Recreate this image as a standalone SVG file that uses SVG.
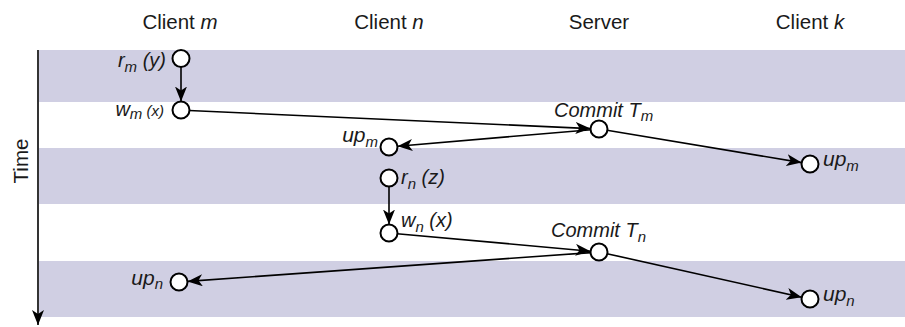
<svg xmlns="http://www.w3.org/2000/svg" width="905" height="327" viewBox="0 0 905 327">
  <style>
    .band { fill: #d0cfe3; }
    .head { font-family: "Liberation Sans", Arial, sans-serif; font-size: 20.5px; fill: #1a1a1a; text-anchor: middle; }
    .lbl { font-family: "Liberation Sans", Arial, sans-serif; font-size: 20px; font-style: italic; fill: #1a1a1a; }
    .up { font-size: 21px; }
    .sub { font-size: 15px; }
    .node { fill: #ffffff; stroke: #000000; stroke-width: 2; }
    .edge { fill: none; stroke: #000000; stroke-width: 1.6; marker-end: url(#arrow); }
  </style>
  <defs>
    <marker id="arrow" markerUnits="userSpaceOnUse" markerWidth="16" markerHeight="12" refX="15" refY="6" orient="auto">
      <path d="M0,0 L15,6 L0,12 L4,6 Z" fill="#000000"/>
    </marker>
  </defs>

  <rect width="905" height="327" fill="#ffffff"/>

  <!-- time bands -->
  <rect class="band" x="39" y="50" width="866" height="52"/>
  <rect class="band" x="39" y="148" width="866" height="56"/>
  <rect class="band" x="39" y="261" width="866" height="56"/>

  <!-- time axis -->
  <g id="time-axis">
    <line x1="38" y1="50" x2="38" y2="325" stroke="#000" stroke-width="1.6" marker-end="url(#arrow)"/>
    <text class="head" transform="translate(28,161) rotate(-90)">Time</text>
  </g>

  <!-- column headings -->
  <g id="headers">
    <text class="head" x="180" y="29">Client <tspan font-style="italic">m</tspan></text>
    <text class="head" x="389" y="29">Client <tspan font-style="italic">n</tspan></text>
    <text class="head" x="599" y="29">Server</text>
    <text class="head" x="810" y="29">Client <tspan font-style="italic">k</tspan></text>
  </g>

  <!-- connectors -->
  <g id="connectors">
    <line class="edge" x1="181" y1="67" x2="181" y2="101.5"/>
    <line class="edge" x1="189" y1="110.5" x2="590.5" y2="128.6"/>
    <line class="edge" x1="591" y1="129.7" x2="397.5" y2="146.3"/>
    <line class="edge" x1="607" y1="130.3" x2="801.6" y2="162.6"/>
    <line class="edge" x1="389" y1="187" x2="389" y2="224.5"/>
    <line class="edge" x1="397" y1="233.7" x2="590.5" y2="251.2"/>
    <line class="edge" x1="591" y1="252.6" x2="187.5" y2="281.4"/>
    <line class="edge" x1="607" y1="253.7" x2="801.7" y2="297.2"/>
  </g>

  <!-- client m -->
  <g id="read-m">
    <circle class="node" cx="181" cy="58.5" r="8.5"/>
    <text class="lbl" x="166" y="67" text-anchor="end">r<tspan class="sub" dy="5">m</tspan><tspan dy="-5"> (y)</tspan></text>
  </g>
  <g id="write-m">
    <circle class="node" cx="181" cy="110" r="8.5"/>
    <text class="lbl" x="164" y="116" text-anchor="end">w<tspan class="sub" dy="3">m</tspan><tspan class="sub" dy="-3"> (x)</tspan></text>
  </g>
  <g id="update-n-at-m">
    <circle class="node" cx="179" cy="282" r="8.5"/>
    <text class="lbl up" x="163" y="285" text-anchor="end">up<tspan class="sub" dy="4">n</tspan></text>
  </g>

  <!-- client n -->
  <g id="update-m-at-n">
    <circle class="node" cx="389" cy="147" r="8.5"/>
    <text class="lbl up" x="378" y="142" text-anchor="end">up<tspan class="sub" dy="5">m</tspan></text>
  </g>
  <g id="read-n">
    <circle class="node" cx="389" cy="178" r="8.5"/>
    <text class="lbl" x="401" y="184">r<tspan class="sub" dy="5">n</tspan><tspan dy="-5"> (z)</tspan></text>
  </g>
  <g id="write-n">
    <circle class="node" cx="389" cy="233" r="8.5"/>
    <text class="lbl" x="401" y="227">w<tspan class="sub" dy="5">n</tspan><tspan dy="-5"> (x)</tspan></text>
  </g>

  <!-- server -->
  <g id="commit-m">
    <circle class="node" cx="599" cy="129" r="8.5"/>
    <text class="lbl" x="554" y="117">Commit T<tspan class="sub" dy="4">m</tspan></text>
  </g>
  <g id="commit-n">
    <circle class="node" cx="599" cy="252" r="8.5"/>
    <text class="lbl" x="551" y="237">Commit T<tspan class="sub" dy="5">n</tspan></text>
  </g>

  <!-- client k -->
  <g id="update-m-at-k">
    <circle class="node" cx="810" cy="164" r="8.5"/>
    <text class="lbl up" x="823" y="166">up<tspan class="sub" dy="5">m</tspan></text>
  </g>
  <g id="update-n-at-k">
    <circle class="node" cx="810" cy="299" r="8.5"/>
    <text class="lbl up" x="823" y="301">up<tspan class="sub" dy="5">n</tspan></text>
  </g>
</svg>
